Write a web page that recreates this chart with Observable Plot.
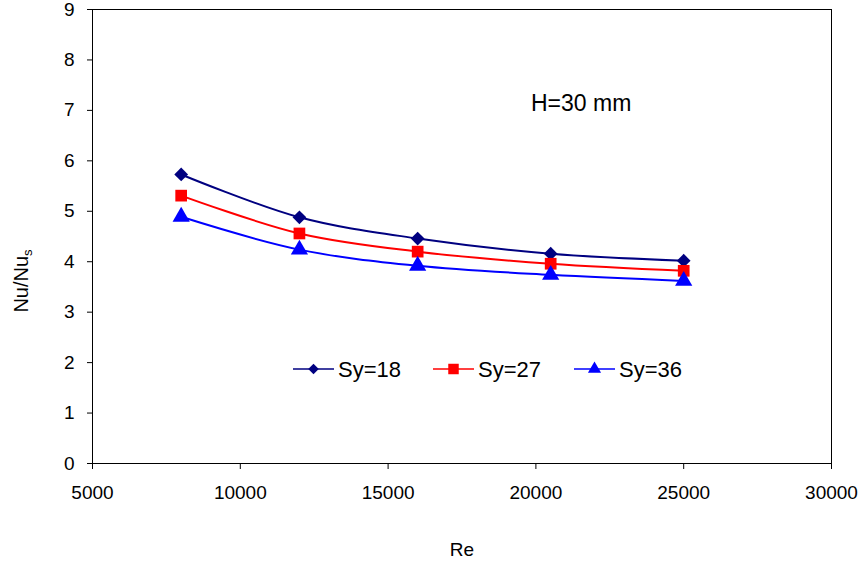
<!DOCTYPE html>
<html><head><meta charset="utf-8">
<script src="https://cdn.jsdelivr.net/npm/d3@7"></script>
<script src="https://cdn.jsdelivr.net/npm/@observablehq/plot@0.6"></script>
<style>
body{margin:0;background:#fff;}
#wrap{position:relative;width:863px;height:567px;font-family:"Liberation Sans",Arial,sans-serif;}
#wrap svg.overlay{position:absolute;left:0;top:0;pointer-events:none;}
</style></head><body><div id="wrap"></div>
<script>
// ---- data ----
const re = [8000, 12000, 16000, 20500, 25000];
const sy18 = [5.73, 4.88, 4.46, 4.16, 4.02];
const sy27 = [5.31, 4.56, 4.20, 3.96, 3.82];
const sy36 = [4.89, 4.24, 3.92, 3.74, 3.62];
const seriesNames = ["Sy=18", "Sy=27", "Sy=36"];
const seriesValues = [sy18, sy27, sy36];
const xTicks = [5000, 10000, 15000, 20000, 25000, 30000];
const yTicks = [0, 1, 2, 3, 4, 5, 6, 7, 8, 9];
const xLabel = "Re";
const yLabel = "Nu/Nu";
const yLabelSub = "s";
const annotation = "H=30 mm";

// ---- style ----
const seriesColors = ["#000080", "#FF0000", "#0000FF"];
const seriesSymbols = ["diamond2", "square", "triangle"];
const seriesR = [6.2, 6.6, 6.4];
const font = "'Liberation Sans', Arial, sans-serif";

const rows = seriesNames.flatMap((s, i) => re.map((x, j) => ({s, x, y: seriesValues[i][j]})));

const W = 863, H = 567;
const chart = Plot.plot({
  width: W, height: H,
  marginLeft: 92, marginRight: 32, marginTop: 9, marginBottom: 104,
  style: {fontFamily: font, fontSize: "19px", color: "#000", background: "#fff"},
  x: {domain: [5000, 30000]},
  y: {domain: [0, 9]},
  color: {domain: seriesNames, range: seriesColors},
  marks: [
    Plot.axisY({ticks: yTicks, tickSize: 5, tickPadding: 13, fontSize: 19, label: null, stroke: "#000"}),
    Plot.axisX({ticks: xTicks, tickSize: 6, tickPadding: 16, fontSize: 19, tickFormat: d3.format("d"),
      label: xLabel, labelAnchor: "center", labelArrow: "none", labelOffset: 92, stroke: "#000"}),
    Plot.frame({stroke: "#000", strokeWidth: 1}),
    Plot.line(rows, {x: "x", y: "y", z: "s", stroke: "s", curve: "catmull-rom", strokeWidth: 2}),
    ...seriesNames.map((name, i) => Plot.dot(rows.filter(d => d.s === name), {
      x: "x", y: "y", symbol: () => seriesSymbols[i], fill: seriesColors[i], r: seriesR[i], stroke: "none"
    }))
  ]
});
const wrap = document.getElementById("wrap");
wrap.appendChild(chart);

// overlay: y label, annotation, legend
const svg = d3.select(wrap).append("svg").attr("class", "overlay")
  .attr("width", W).attr("height", H).style("font-family", font);

const yl = svg.append("text").attr("transform", "translate(28,281) rotate(-90)")
  .attr("text-anchor", "middle").attr("font-size", 20).attr("fill", "#000");
yl.append("tspan").text(yLabel);
yl.append("tspan").attr("font-size", 13).attr("dy", 4).text(yLabelSub);

svg.append("text").attr("x", 531).attr("y", 111).attr("font-size", 23).attr("fill", "#000").text(annotation);

const legendX = [293, 433, 574], legendY = 369;
const symMap = {diamond2: d3.symbolDiamond2, square: d3.symbolSquare, triangle: d3.symbolTriangle};
const legSize = [70, 110, 75];
seriesNames.forEach((name, i) => {
  const g = svg.append("g").attr("transform", `translate(${legendX[i]},${legendY})`);
  g.append("line").attr("x1", 0).attr("x2", 41).attr("y1", 0).attr("y2", 0)
    .attr("stroke", seriesColors[i]).attr("stroke-width", 1.6);
  g.append("path").attr("transform", "translate(20.5,0)")
    .attr("d", d3.symbol(symMap[seriesSymbols[i]], legSize[i])()).attr("fill", seriesColors[i]);
  g.append("text").attr("x", 45).attr("y", 8).attr("font-size", 22).attr("fill", "#000").text(name);
});
</script></body></html>
